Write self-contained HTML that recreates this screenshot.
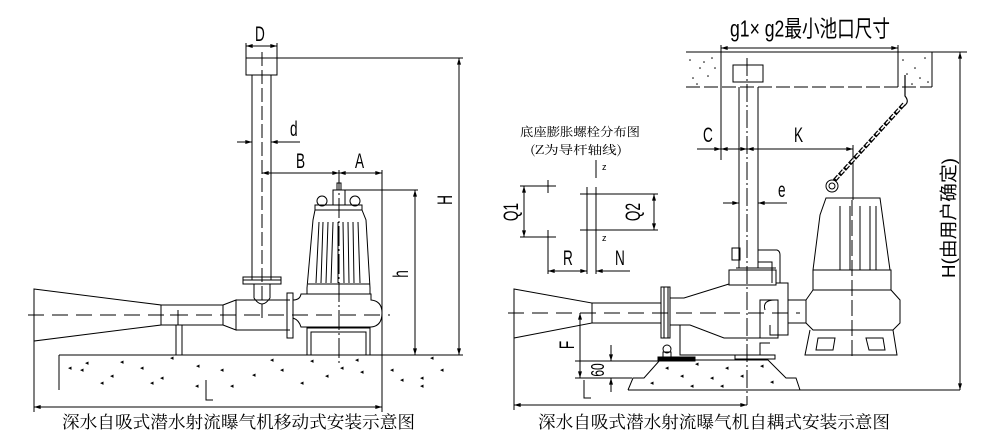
<!DOCTYPE html>
<html><head><meta charset="utf-8"><style>
html,body{margin:0;padding:0;background:#fff;width:994px;height:435px;overflow:hidden}
svg{display:block}
text{font-family:"Liberation Sans","Noto Sans CJK SC",sans-serif;fill:#000;stroke:none;font-weight:normal}
.c{font-family:"Noto Serif CJK SC","Liberation Serif",serif}
.n{font-family:"Liberation Sans Narrow","Liberation Sans",sans-serif}
</style></head><body>
<svg width="994" height="435" viewBox="0 0 994 435" xmlns="http://www.w3.org/2000/svg" fill="none" stroke="#000" stroke-width="1">
<defs>
<marker id="a" viewBox="0 0 10 6" refX="10" refY="3" markerWidth="8" markerHeight="4" orient="auto-start-reverse"><path d="M0,0L10,3L0,6z" fill="#000" stroke="none"/></marker>
</defs>
<!-- ============ LEFT ============ -->
<g>
<rect x="246" y="58" width="31" height="17"/>
<line x1="246" y1="46" x2="277" y2="46" marker-start="url(#a)" marker-end="url(#a)"/>
<line x1="246" y1="43" x2="246" y2="58"/><line x1="277" y1="43" x2="277" y2="58"/>
<text class="n" x="0" y="0" font-size="17" transform="translate(255,41) scale(0.8,1.25)">D</text>
<line x1="252" y1="75" x2="252" y2="280"/><line x1="271" y1="75" x2="271" y2="280"/>
<line x1="262" y1="52" x2="262" y2="318" stroke-dasharray="14,4"/>
<rect x="243" y="277" width="38" height="3"/><rect x="243" y="280" width="38" height="4"/>
<path d="M254,284 V298 Q262,310 270,298 V284"/>
<line x1="237" y1="142" x2="252" y2="142" marker-end="url(#a)"/>
<line x1="300" y1="142" x2="271" y2="142" marker-end="url(#a)"/>
<text class="n" x="0" y="0" font-size="17" transform="translate(290,136) scale(0.8,1.25)">d</text>
<line x1="262" y1="173" x2="339" y2="173" marker-start="url(#a)" marker-end="url(#a)"/>
<line x1="339" y1="173" x2="382" y2="173" marker-start="url(#a)" marker-end="url(#a)"/>
<text class="n" x="0" y="0" font-size="17" transform="translate(296,168) scale(0.8,1.25)">B</text>
<text class="n" x="0" y="0" font-size="17" transform="translate(355,168) scale(0.8,1.25)">A</text>
<line x1="382" y1="170" x2="382" y2="412"/>
<line x1="277" y1="58" x2="463" y2="58"/>
<line x1="459" y1="58" x2="459" y2="355" marker-start="url(#a)" marker-end="url(#a)"/>
<text class="n" x="0" y="0" font-size="17" transform="translate(452,200) rotate(-90) scale(0.8,1.25)" text-anchor="middle">H</text>
<line x1="343" y1="190" x2="418" y2="190"/>
<line x1="415" y1="190" x2="415" y2="355" marker-start="url(#a)" marker-end="url(#a)"/>
<text class="n" x="0" y="0" font-size="17" transform="translate(408,274) rotate(-90) scale(0.8,1.25)" text-anchor="middle">h</text>
<path d="M34,289 L161,305 L161,325 L34,341 Z"/>
<rect x="161" y="305" width="62" height="20"/>
<path d="M223,305 L236,300 L236,330 L223,325"/>
<path d="M236,300 H290 M236,330 H290"/>
<rect x="287" y="293" width="6" height="45"/>
<line x1="178" y1="310" x2="178" y2="325"/><line x1="170" y1="315" x2="186" y2="315"/>
<rect x="176" y="325" width="6" height="30"/>
<path d="M293,300 Q300,300 301,294 H371 V300 Q382,301 382,313 Q382,326 371,327 H301 Q299,320 293,318"/>
<path d="M307,294 L307,288 L313,220 L315,210 H362 L366,220 L370,288 L370,294"/>
<line x1="308" y1="284" x2="370" y2="284"/>
<path d="M319,222L316,283 M323,222L321,283 M328,222L326,283 M333,222L331,283 M338,222L338,283 M343,222L344,283 M348,222L349,283 M353,222L354,283 M358,222L360,283"/>
<rect x="315" y="205" width="47" height="5"/>
<rect x="333" y="190" width="12" height="15"/><rect x="337" y="183" width="4" height="7"/>
<circle cx="322" cy="201" r="5"/><circle cx="355" cy="201" r="5"/>
<rect x="307" y="328" width="63" height="27"/><rect x="311" y="332" width="55" height="23"/>
<line x1="339" y1="170" x2="339" y2="365" stroke-dasharray="20,3,2,3"/>
<line x1="28" y1="315" x2="390" y2="315" stroke-dasharray="16,8"/>
<line x1="59" y1="355" x2="463" y2="355"/>
<line x1="59" y1="355" x2="59" y2="390"/>
<g fill="#000" stroke="none" font-size="7"><text x="68" y="370">◂</text><text x="80" y="372">◂</text><text x="110" y="378">◂</text><text x="140" y="370">◂</text><text x="160" y="380">◂</text><text x="196" y="368">◂</text><text x="220" y="372">◂</text><text x="252" y="377">◂</text><text x="280" y="372">◂</text><text x="310" y="363">◂</text><text x="340" y="370">◂</text><text x="360" y="374">◂</text><text x="100" y="385">◂</text><text x="195" y="388">◂</text><text x="230" y="388">◂</text><text x="390" y="372">◂</text><text x="420" y="380">◂</text><text x="430" y="360">◂</text><text x="420" y="388">◂</text><text x="170" y="360">◂</text><text x="85" y="365">◂</text><text x="120" y="364">◂</text><text x="150" y="385">◂</text><text x="270" y="362">◂</text><text x="300" y="385">◂</text><text x="325" y="378">◂</text><text x="355" y="362">◂</text><text x="400" y="382">◂</text><text x="440" y="372">◂</text></g>
<line x1="34" y1="341" x2="34" y2="412"/>
<line x1="34" y1="407" x2="382" y2="407" marker-start="url(#a)" marker-end="url(#a)"/>
<path d="M206,380 V400 H213"/>
<text x="62" y="428" font-size="17" class="c" textLength="353" lengthAdjust="spacingAndGlyphs">深水自吸式潜水射流曝气机移动式安装示意图</text>
</g>
<!-- ============ RIGHT ============ -->
<g>
<text class="n" x="730" y="37" font-size="20" textLength="160" lengthAdjust="spacingAndGlyphs" transform="translate(0,-6) scale(1,1.15)">g1× g2最小池口尺寸</text>
<line x1="721" y1="48" x2="898" y2="48" marker-start="url(#a)" marker-end="url(#a)"/>
<line x1="686" y1="52" x2="967" y2="52"/>
<line x1="686" y1="87" x2="932" y2="87" stroke-dasharray="14,4"/>
<line x1="721" y1="45" x2="721" y2="160"/><line x1="898" y1="45" x2="898" y2="87"/>
<line x1="932" y1="52" x2="932" y2="87"/>
<g fill="#000" stroke="none"><circle cx="690" cy="60" r=".8"/><circle cx="700" cy="68" r=".8"/><circle cx="712" cy="58" r=".8"/><circle cx="693" cy="78" r=".8"/><circle cx="708" cy="76" r=".8"/><circle cx="715" cy="68" r=".8"/><circle cx="697" cy="84" r=".8"/><circle cx="704" cy="62" r=".8"/><circle cx="903" cy="60" r=".8"/><circle cx="915" cy="68" r=".8"/><circle cx="925" cy="58" r=".8"/><circle cx="920" cy="78" r=".8"/><circle cx="907" cy="74" r=".8"/><circle cx="928" cy="82" r=".8"/><circle cx="912" cy="84" r=".8"/></g>
<rect x="733" y="65" width="30" height="17"/>
<line x1="739" y1="87" x2="739" y2="268"/><line x1="758" y1="87" x2="758" y2="268"/>
<line x1="747" y1="58" x2="747" y2="405" stroke-dasharray="18,3,2,3"/>
<text class="n" x="0" y="0" font-size="17" transform="translate(703,142) scale(0.8,1.25)">C</text>
<text class="n" x="0" y="0" font-size="17" transform="translate(794,142) scale(0.8,1.25)">K</text>
<line x1="697" y1="149" x2="721" y2="149" marker-end="url(#a)"/>
<line x1="721" y1="149" x2="747" y2="149" marker-start="url(#a)" marker-end="url(#a)"/>
<line x1="747" y1="149" x2="853" y2="149" marker-start="url(#a)" marker-end="url(#a)"/>
<line x1="853" y1="145" x2="853" y2="200"/>
<text class="n" x="0" y="0" font-size="17" transform="translate(778,197) scale(0.8,1.25)">e</text>
<line x1="723" y1="203" x2="739" y2="203" marker-end="url(#a)"/>
<line x1="787" y1="203" x2="758" y2="203" marker-end="url(#a)"/>
<line x1="960" y1="52" x2="960" y2="390" marker-start="url(#a)" marker-end="url(#a)"/>
<text class="n" x="0" y="0" font-size="18" transform="translate(955,218) rotate(-90)" text-anchor="middle" textLength="120" lengthAdjust="spacingAndGlyphs">H(由用户确定)</text>
<!-- chain -->
<path d="M905,75 V96 Q910,102 904,106" stroke-width="1.2"/>
<path d="M904,104 L834,181" stroke-width="4" stroke-dasharray="6,1.5"/>
<path d="M904,104 L834,181" stroke="#fff" stroke-width="1.6" stroke-dasharray="4,3.5"/>
<circle cx="832" cy="186" r="6"/><circle cx="832" cy="186" r="3"/>
<path d="M826,198 H880 L890,270 H813 L820,215 Z"/>
<path d="M840,206 V270 M850,206 V270 M860,206 V270 M870,206 V270 M876,206 V270"/>
<rect x="813" y="270" width="78" height="20"/>
<path d="M813,290 L806,300 V323 L813,330 H893 L900,323 V300 L891,290"/>
<path d="M788,300 H806 M788,323 H806"/>
<path d="M810,330 L805,355 H897 L893,330"/>
<path d="M818,338 H835 L833,350 H816Z M866,338 H883 L885,350 H869Z"/>
<line x1="852" y1="200" x2="852" y2="360" stroke-dasharray="16,4"/>
<rect x="732" y="248" width="8" height="12"/>
<path d="M758,250 H777 Q780,251 780,255 V283"/>
<path d="M758,262 H772 V283 M736,268 H776"/>
<rect x="729" y="270" width="47" height="15"/>
<path d="M776,283 H788 V335 H770 V325"/>
<rect x="760" y="300" width="18" height="38"/>
<path d="M765,310 Q762,300 775,300"/>
<path d="M514,289 L592,303 L592,323 L514,338 Z"/>
<rect x="592" y="303" width="69" height="20"/>
<rect x="661" y="287" width="9" height="51"/><rect x="664" y="287" width="4" height="51"/>
<path d="M670,298 H684 L729,284 M729,284 V285"/>
<path d="M670,325 H680 V355 H760 V343 H770 M680,325 L690,325 L724,338 H760"/>
<circle cx="667" cy="349" r="4"/><rect x="663" y="352" width="8" height="5"/>
<rect x="658" y="357" width="37" height="4" fill="#000"/><rect x="735" y="355" width="40" height="4"/>
<line x1="508" y1="313" x2="800" y2="313" stroke-dasharray="16,8"/>
<path d="M628,390 L633,378 H644 L660,360 H768 L786,378 H796 L800,390"/>
<line x1="628" y1="390" x2="960" y2="390"/>
<g fill="#000" stroke="none" font-size="7"><text x="665" y="370">◂</text><text x="680" y="378">◂</text><text x="695" y="366">◂</text><text x="710" y="380">◂</text><text x="725" y="370">◂</text><text x="740" y="378">◂</text><text x="760" y="368">◂</text><text x="770" y="384">◂</text><text x="650" y="385">◂</text><text x="690" y="388">◂</text><text x="720" y="388">◂</text></g>
<line x1="580" y1="313" x2="580" y2="378" marker-start="url(#a)" marker-end="url(#a)"/>
<text class="n" x="0" y="0" font-size="17" transform="translate(574,345) rotate(-90) scale(0.8,1.25)" text-anchor="middle">F</text>
<line x1="575" y1="361" x2="662" y2="361"/><line x1="575" y1="378" x2="632" y2="378"/>
<line x1="611" y1="345" x2="611" y2="361" marker-end="url(#a)"/>
<line x1="611" y1="392" x2="611" y2="378" marker-end="url(#a)"/>
<text class="n" x="0" y="0" font-size="15" transform="translate(604,370) rotate(-90) scale(0.8,1.25)" text-anchor="middle">60</text>
<line x1="514" y1="338" x2="514" y2="410"/>
<line x1="514" y1="405" x2="747" y2="405" marker-start="url(#a)" marker-end="url(#a)"/>
<path d="M584,380 V398 H591"/>
<text x="520" y="136" font-size="12" class="c" textLength="120" lengthAdjust="spacingAndGlyphs">底座膨胀螺栓分布图</text>
<text x="530" y="154" font-size="12" class="c" textLength="92" lengthAdjust="spacingAndGlyphs">(Z为导杆轴线)</text>
<line x1="596" y1="160" x2="596" y2="178"/><text x="602" y="170" font-size="9">z</text>
<text x="602" y="241" font-size="9">z</text>
<line x1="520" y1="186" x2="556" y2="186"/><line x1="520" y1="237" x2="556" y2="237"/>
<line x1="548" y1="180" x2="548" y2="193"/><line x1="548" y1="230" x2="548" y2="274"/>
<line x1="524" y1="186" x2="524" y2="237" marker-start="url(#a)" marker-end="url(#a)"/>
<text class="n" x="0" y="0" font-size="17" transform="translate(518,212) rotate(-90) scale(0.8,1.25)" text-anchor="middle">Q1</text>
<line x1="580" y1="194" x2="658" y2="194"/><line x1="580" y1="230" x2="658" y2="230"/>
<line x1="587" y1="187" x2="587" y2="274"/><line x1="596" y1="187" x2="596" y2="274"/>
<line x1="654" y1="194" x2="654" y2="230" marker-start="url(#a)" marker-end="url(#a)"/>
<text class="n" x="0" y="0" font-size="17" transform="translate(640,212) rotate(-90) scale(0.8,1.25)" text-anchor="middle">Q2</text>
<line x1="548" y1="271" x2="587" y2="271" marker-start="url(#a)" marker-end="url(#a)"/>
<line x1="630" y1="271" x2="596" y2="271" marker-end="url(#a)"/>
<text class="n" x="0" y="0" font-size="17" transform="translate(563,265) scale(0.8,1.25)">R</text>
<text class="n" x="0" y="0" font-size="17" transform="translate(615,265) scale(0.8,1.25)">N</text>
<text x="538" y="428" font-size="17" class="c" textLength="352" lengthAdjust="spacingAndGlyphs">深水自吸式潜水射流曝气机自耦式安装示意图</text>
</g>
</svg>
</body></html>
